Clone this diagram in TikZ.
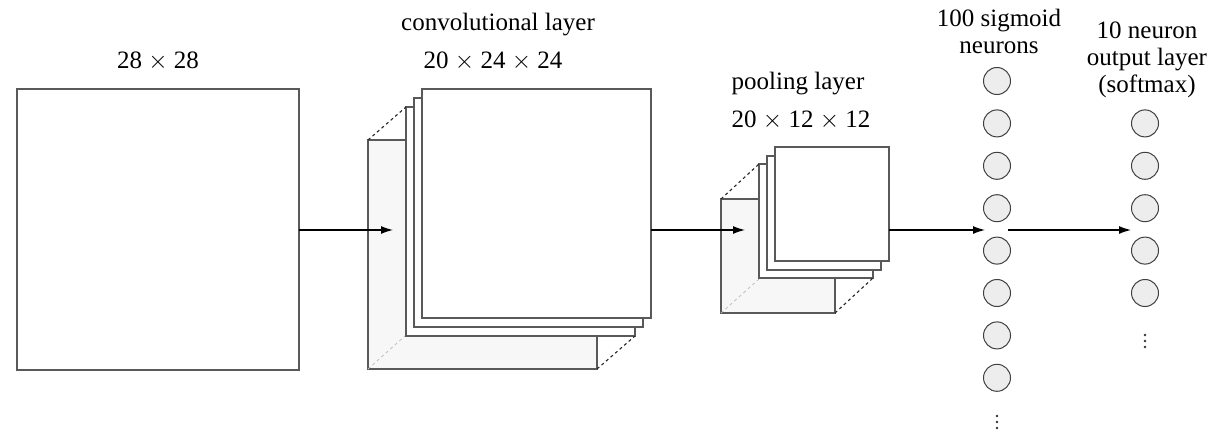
\documentclass[tikz,border=0pt]{standalone}
\usepackage{fontspec}
\setmainfont{Liberation Serif}
\usetikzlibrary{arrows.meta}
\begin{document}
\begin{tikzpicture}[x=1pt,y=-1pt,
  sheet/.style={draw=black!65, line width=1.1pt, fill=white, anchor=north west, inner sep=0pt, outer sep=0pt},
  bigsheet/.style={sheet, minimum width=229pt, minimum height=229pt},
  smallsheet/.style={sheet, minimum width=114pt, minimum height=114pt},
  neuron/.style={circle, draw=black!75, line width=1pt, fill=black!7, minimum size=27pt, inner sep=0pt},
  conn/.style={-{Latex[length=12pt,width=8pt]}, line width=1.2pt, black},
  persp/.style={dashed, line width=1.1pt, black!85},
  hidden/.style={dashed, line width=0.8pt, black!25},
  lbl/.style={font=\fontsize{25}{27}\selectfont, align=center, inner sep=0pt},
  dotmark/.style={fill=black!80},
]
\useasboundingbox (0,0) rectangle (1215,433);

% input image
\node[sheet, minimum width=282pt, minimum height=281pt] (in) at (17,89) {};
\node[lbl] (l28) at (158,61) {28 $\times$ 28};

% convolutional layer stack
\node[bigsheet, fill=black!3] (c1) at (368,140) {};
\draw[hidden] (c1.south west) -- ++(38,-34);
\node[bigsheet] (c2) at (406,107) {};
\node[bigsheet] (c3) at (414,98) {};
\node[bigsheet] (c4) at (422,89) {};
\draw[persp] (c1.north west) -- (c2.north west);
\draw[persp] (c1.south east) -- (c2.south east);
\node[lbl] (lconv) at (498,25) {convolutional layer};
\node[lbl] (lconvd) at (493,61) {20 $\times$ 24 $\times$ 24};

% pooling layer stack
\node[smallsheet, fill=black!3] (p1) at (721,199) {};
\draw[hidden] (p1.south west) -- ++(38,-34);
\node[smallsheet] (p2) at (759,164) {};
\node[smallsheet] (p3) at (767,156) {};
\node[smallsheet] (p4) at (775,147) {};
\draw[persp] (p1.north west) -- (p2.north west);
\draw[persp] (p1.south east) -- (p2.south east);
\node[lbl] (lpool) at (798,84) {pooling layer};
\node[lbl] (lpoold) at (801,120) {20 $\times$ 12 $\times$ 12};

% hidden neurons
\foreach \i in {1,...,8} {
  \node[neuron] (h\i) at (997,{81+42.4*(\i-1)}) {};
}
\coordinate (hd) at (997,422);
\foreach \d in {-6,0,6} { \fill[dotmark] ([yshift=-\d pt]hd) circle (1.4pt); }
\node[lbl] (lsig) at (999,31) {100 sigmoid\\neurons};

% output neurons
\foreach \i in {1,...,5} {
  \node[neuron] (o\i) at (1145,{123.4+42.4*(\i-1)}) {};
}
\coordinate (od) at (1145,341);
\foreach \d in {-6,0,6} { \fill[dotmark] ([yshift=-\d pt]od) circle (1.4pt); }
\node[lbl] (lout) at (1147,60) {10 neuron\\output layer\\(softmax)};

% connectors
\coordinate (t1) at (393,230);
\coordinate (t2) at (745,230);
\coordinate (t3) at (985,230);
\coordinate (s4) at (1008,230);
\coordinate (t4) at (1131,230);
\draw[conn] (in.east |- t1) -- (t1);
\draw[conn] (c4.east |- t2) -- (t2);
\draw[conn] (p4.east |- t3) -- (t3);
\draw[conn] (s4) -- (t4);
\end{tikzpicture}
\end{document}
